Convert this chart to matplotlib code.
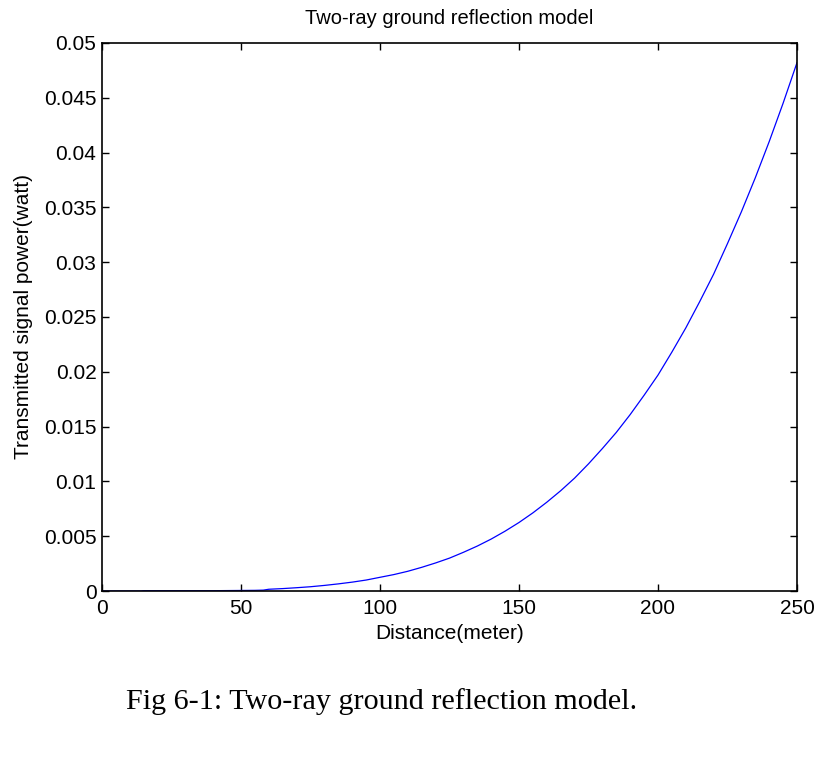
import numpy as np
import matplotlib.pyplot as plt

# values (distance in m, power in W)
distance = [0, 10, 14, 15, 20, 30, 40, 50, 55, 58, 60, 65, 70, 75, 80, 85, 90, 95,
            100, 105, 110, 115, 120, 125, 130, 135, 140, 145, 150, 155, 160, 165,
            170, 175, 180, 185, 190, 195, 200, 205, 210, 215, 220, 225, 230, 235,
            240, 245, 250]
power = [0, 0, 0, 0.00003, 0.00003, 0.00003, 0.00003, 0.00005, 0.00006, 0.00008,
         0.00016, 0.00022, 0.0003, 0.00039, 0.00051, 0.00065, 0.00081, 0.0010,
         0.00125, 0.0015, 0.0018, 0.00216, 0.00256, 0.0030, 0.00353, 0.0041,
         0.00474, 0.00546, 0.00625, 0.00713, 0.0081, 0.00915, 0.0103, 0.0116,
         0.0130, 0.01447, 0.0161, 0.01786, 0.0197, 0.0218, 0.0240, 0.0264, 0.0289,
         0.0317, 0.0346, 0.0377, 0.0410, 0.0445, 0.0482]

xticks = [0, 50, 100, 150, 200, 250]
yticks = [0, 0.005, 0.01, 0.015, 0.02, 0.025, 0.03, 0.035, 0.04, 0.045, 0.05]
ytick_labels = ['0', '0.005', '0.01', '0.015', '0.02', '0.025', '0.03', '0.035',
                '0.04', '0.045', '0.05']

plt.rcParams['font.family'] = 'Liberation Sans'

fig = plt.figure(figsize=(8.16, 7.62), dpi=100)
ax = fig.add_axes([0.125, 0.2244, 0.8517, 0.7192])

ax.plot(distance, power, color='#0000ff', linewidth=0.9)

ax.set_xlim(0, 250)
ax.set_ylim(0, 0.05)
ax.set_xticks(xticks)
ax.set_yticks(yticks)
ax.set_yticklabels(ytick_labels)
ax.tick_params(direction='in', length=5, width=1, top=True, right=True,
               labelsize=15, pad=4, colors='black')
ax.tick_params(axis='x', pad=6)
for s in ax.spines.values():
    s.set_linewidth(1.2)

ax.set_title('Two-ray ground reflection model', fontsize=14.5, pad=14)
ax.set_xlabel('Distance(meter)', fontsize=15, labelpad=4)
ax.set_ylabel('Transmitted signal power(watt)', fontsize=15, labelpad=8)

fig.text(0.468, 0.07, 'Fig 6-1: Two-ray ground reflection model.',
         family='Liberation Serif', fontsize=21.7, ha='center', va='baseline')

fig.savefig('out.png', dpi=100)
